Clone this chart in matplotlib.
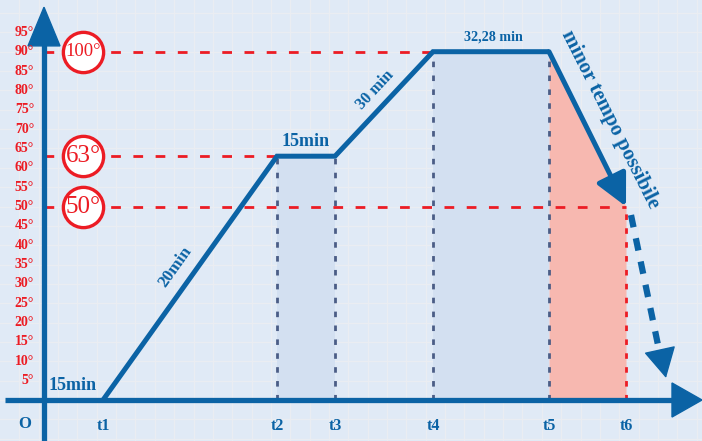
import matplotlib
matplotlib.use("Agg")
import matplotlib.pyplot as plt
from matplotlib.patches import Polygon
import numpy as np

# ---- data (positions along time axis in chart units, temperatures in degrees) ----
t_labels = ["t1", "t2", "t3", "t4", "t5", "t6"]
t_pos = [59, 233, 291, 389, 505, 582]
profile_temp = [0, 63, 63, 90, 90, 50]
y_ticks = [5, 10, 15, 20, 25, 30, 35, 40, 45, 50, 55, 60, 65, 70, 75, 80, 85, 90, 95]
ref_levels = [90, 63, 50]
ref_labels = ["100°", "63°", "50°"]
segment_labels = ["15min", "20min", "15min", "30 min", "32,28 min"]

BLUE = "#0b63a5"
RED = "#ec1c24"
DARK = "#4b5d86"
BG = "#e0eaf6"
FILLB = "#d3e0f1"
FILLR = "#f7b8b0"
FONT = "Liberation Serif"

fig = plt.figure(figsize=(7.02, 4.41), dpi=100)
fig.patch.set_facecolor(BG)
ax = fig.add_axes([0, 0, 1, 1])
ax.set_facecolor(BG)
PX = 3.87  # pixels per degree
ax.set_xlim(-44, 658)
ax.set_ylim(-41 / PX, 400 / PX)
ax.axis("off")

# faint grid
gx = np.arange(-44 + 19.35, 658, 19.35)
for x in gx:
    ax.axvline(x, color="#eaedf2", lw=0.9, zorder=0)
for y in np.arange(-10, 105, 5):
    ax.axhline(y, color="#eaedf2", lw=0.9, zorder=0)

t1, t2, t3, t4, t5, t6 = t_pos

# fills
ax.fill_between([t2, t3], 0, profile_temp[1], color=FILLB, zorder=1, lw=0)
ax.fill_between([t4, t5], 0, profile_temp[3], color=FILLB, zorder=1, lw=0)
ax.fill_between([t5, t6], 0, [profile_temp[4], profile_temp[5]], color=FILLR, zorder=1, lw=0)

# vertical dashed lines
for x, top in [(t2, 63), (t3, 63), (t4, 90), (t5, 90)]:
    ax.plot([x, x], [0, top], color=DARK, lw=2, dashes=(2, 3), zorder=2)
ax.plot([t6, t6], [0, 50], color=RED, lw=2, dashes=(2, 3), zorder=2)

# horizontal red dashed reference lines
for lvl, xend in zip(ref_levels, [t4, t2, t6]):
    ax.plot([0, xend], [lvl, lvl], color=RED, lw=2, dashes=(3.5, 4.5), zorder=2)

# main profile line
ax.plot([t1, t2, t3, t4, t5], profile_temp[:5], color=BLUE, lw=3.6,
        solid_joinstyle="miter", solid_capstyle="butt", zorder=4)
ax.annotate("", xy=(t6, profile_temp[5]), xytext=(t5, profile_temp[4]),
            arrowprops=dict(arrowstyle="-|>,head_length=1.3,head_width=0.65",
                            mutation_scale=15, lw=3.6, color=BLUE,
                            shrinkA=0, shrinkB=0), zorder=4)

# dashed continuation arrow
x0, y0 = 587, 47.8
xb, yb = 617, 10.5
ax.plot([x0, xb], [y0, yb], color=BLUE, lw=4.5, dashes=(2, 1.8), zorder=4)
ax.annotate("", xy=(622, 5.7), xytext=(617.5, 11),
            arrowprops=dict(arrowstyle="-|>,head_length=1.3,head_width=0.7",
                            mutation_scale=15, lw=1, color=BLUE,
                            shrinkA=0, shrinkB=0), zorder=4)

# axes
ax.plot([0, 0], [-12, 93], color=BLUE, lw=3.8, zorder=5, solid_capstyle="butt")
ax.add_patch(Polygon([[-16, 91.5], [16, 91.5], [0, 101.5]], closed=True,
                     color=BLUE, zorder=5))
ax.plot([-39, 630], [0, 0], color=BLUE, lw=3.8, zorder=5, solid_capstyle="butt")
ax.add_patch(Polygon([[628, 4.4], [628, -4.4], [658, 0]], closed=True,
                     color=BLUE, zorder=5))

# y tick labels
for v in y_ticks:
    ax.text(-10, v, f"{v}°", color=RED, fontsize=10, fontweight="bold",
            family=FONT, ha="right", va="center", zorder=6)

# t labels
for lab, x in zip(t_labels, t_pos):
    ax.text(x, -6.8, lab, color=BLUE, fontsize=11.5, fontweight="bold",
            family=FONT, ha="center", va="center", zorder=6)
ax.text(-19, -6.3, "O", color=BLUE, fontsize=12, fontweight="bold",
        family=FONT, ha="center", va="center", zorder=6)

# circled reference labels
for lvl, lab in zip(ref_levels, ref_labels):
    ax.plot(39, lvl, "o", ms=29, mfc="white", mec=RED, mew=2.4, zorder=6)
    ax.text(39, lvl, lab, color=RED, fontsize=13.5 if len(lab) > 3 else 18,
            family=FONT, fontweight="normal", ha="center", va="center", zorder=7)

# segment labels
ax.text(29, 3.7, segment_labels[0], color=BLUE, fontsize=13, fontweight="bold",
        family=FONT, ha="center", va="center", zorder=6)
ax.text(131, 34.5, segment_labels[1], color=BLUE, fontsize=12.4, fontweight="bold",
        family=FONT, ha="center", va="center", rotation=54.6, zorder=6)
ax.text(262, 66.9, segment_labels[2], color=BLUE, fontsize=13, fontweight="bold",
        family=FONT, ha="center", va="center", zorder=6)
ax.text(331, 80, segment_labels[3], color=BLUE, fontsize=11.7, fontweight="bold",
        family=FONT, ha="center", va="center", rotation=47, zorder=6)
ax.text(449, 93.8, segment_labels[4], color=BLUE, fontsize=10.2, fontweight="bold",
        family=FONT, ha="center", va="center", zorder=6)
ax.text(566, 72.4, "minor tempo possibile", color=BLUE, fontsize=15,
        fontweight="bold", family=FONT, ha="center", va="center",
        rotation=-63.3, zorder=6)

fig.savefig("out.png", dpi=100, facecolor=BG)
